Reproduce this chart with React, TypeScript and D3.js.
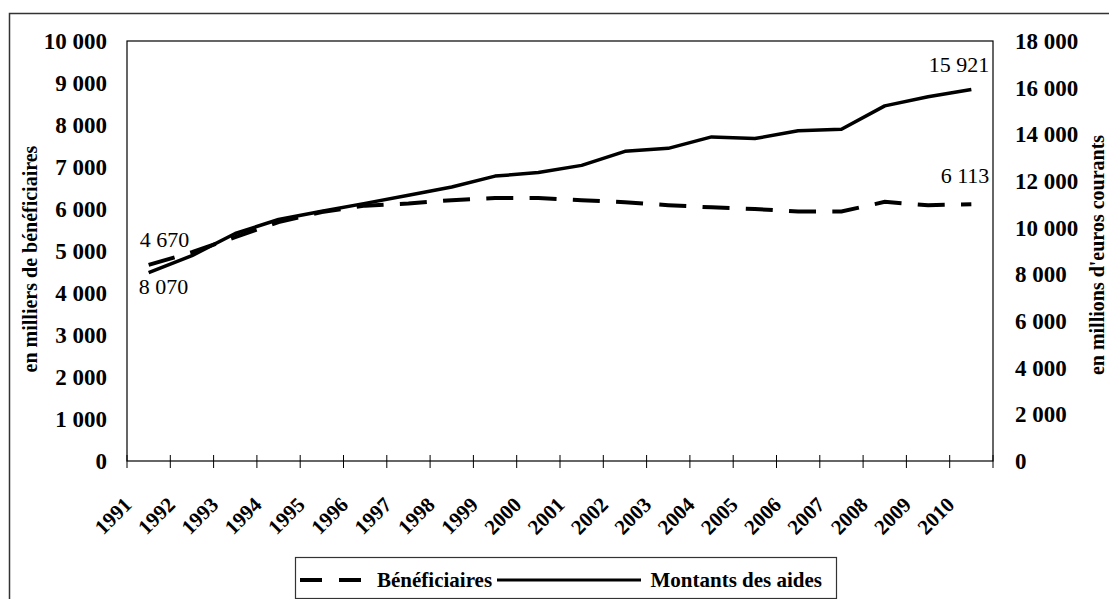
import React from "react";
import * as d3 from "d3";

const years = ["1991","1992","1993","1994","1995","1996","1997","1998","1999","2000","2001","2002","2003","2004","2005","2006","2007","2008","2009","2010"];
const beneficiaires = [4670, 4970, 5330, 5690, 5930, 6080, 6130, 6210, 6260, 6260, 6210, 6160, 6090, 6040, 6000, 5940, 5940, 6170, 6090, 6113];
const montants = [8070, 8800, 9750, 10350, 10700, 11040, 11390, 11740, 12210, 12360, 12670, 13270, 13400, 13890, 13820, 14150, 14220, 15220, 15610, 15921];
const leftTicks = [0, 1000, 2000, 3000, 4000, 5000, 6000, 7000, 8000, 9000, 10000];
const rightTicks = [0, 2000, 4000, 6000, 8000, 10000, 12000, 14000, 16000, 18000];
const leftTitle = "en milliers de bénéficiaires";
const rightTitle = "en millions d'euros courants";
const legendLabels = ["Bénéficiaires", "Montants des aides"];

const W = 1109, H = 599;
const PL = 127, PR = 993, PT = 41, PB = 461;
const FONT = "'Liberation Serif', 'Times New Roman', serif";

const fr = d3.formatLocale({ thousands: "\u00a0", grouping: [3], decimal: ",", currency: ["", ""] });
const fmt = fr.format(",");

export default function App() {
  const x = d3.scaleLinear().domain([0, years.length]).range([PL, PR]);
  const yL = d3.scaleLinear().domain([0, 10000]).range([PB, PT]);
  const yR = d3.scaleLinear().domain([0, 18000]).range([PB, PT]);

  const lineB = d3.line<number>().x((_, i) => x(i + 0.5)).y((d) => yL(d));
  const lineM = d3.line<number>().x((_, i) => x(i + 0.5)).y((d) => yR(d));

  const n = years.length;
  const bFirst = { x: x(0.5), y: yL(beneficiaires[0]) };
  const bLast = { x: x(n - 0.5), y: yL(beneficiaires[n - 1]) };
  const mFirst = { x: x(0.5), y: yR(montants[0]) };
  const mLast = { x: x(n - 0.5), y: yR(montants[n - 1]) };

  return (
    <svg width={W} height={H} style={{ position: "absolute", left: 0, top: 0, background: "#fff" }} fontFamily={FONT}>
      <rect x={0} y={0} width={W} height={H} fill="#fff" />
      <rect x={9.5} y={13.5} width={1120} height={620} fill="none" stroke="#333" strokeWidth={1.5} />
      <rect x={PL} y={PT} width={PR - PL} height={PB - PT} fill="none" stroke="#000" strokeWidth={1.2} />
      {d3.range(0, n + 1).map((i) => (
        <line key={"t" + i} x1={x(i)} x2={x(i)} y1={PB - 6} y2={PB + 7} stroke="#000" strokeWidth={1} />
      ))}
      {years.map((yr, i) => (
        <text key={yr} transform={`translate(${x(i) + 6},${PB + 45}) rotate(-45)`} textAnchor="end" fontWeight="bold" fontSize={21}>
          {yr}
        </text>
      ))}
      {leftTicks.map((v) => (
        <text key={"l" + v} x={107} y={yL(v)} dy="0.35em" textAnchor="end" fontWeight="bold" fontSize={23}>
          {fmt(v)}
        </text>
      ))}
      {rightTicks.map((v) => (
        <text key={"r" + v} x={1015} y={yR(v)} dy="0.35em" textAnchor="start" fontWeight="bold" fontSize={23}>
          {fmt(v)}
        </text>
      ))}
      <text transform={`translate(37,259) rotate(-90)`} textAnchor="middle" fontWeight="bold" fontSize={20}>{leftTitle}</text>
      <text transform={`translate(1104,255) rotate(-90)`} textAnchor="middle" fontWeight="bold" fontSize={20}>{rightTitle}</text>
      <path d={lineM(montants) || ""} fill="none" stroke="#000" strokeWidth={3.5} strokeLinejoin="round" />
      <path d={lineB(beneficiaires) || ""} fill="none" stroke="#000" strokeWidth={4} strokeDasharray="27,16.3" />
      <text x={bFirst.x - 9} y={bFirst.y - 18} fontSize={22}>{fmt(beneficiaires[0])}</text>
      <text x={mFirst.x - 10} y={mFirst.y + 21} fontSize={22}>{fmt(montants[0])}</text>
      <text x={mLast.x + 18} y={mLast.y - 18} fontSize={22} textAnchor="end">{fmt(montants[n - 1])}</text>
      <text x={bLast.x + 18} y={bLast.y - 21} fontSize={22} textAnchor="end">{fmt(beneficiaires[n - 1])}</text>
      <rect x={295.5} y={557.5} width={541} height={41} fill="#fff" stroke="#333" strokeWidth={1.2} />
      <line x1={300} x2={362} y1={580} y2={580} stroke="#000" strokeWidth={4} strokeDasharray="22,17" />
      <text x={377} y={587} fontWeight="bold" fontSize={21}>{legendLabels[0]}</text>
      <line x1={497} x2={641} y1={580} y2={580} stroke="#000" strokeWidth={3} />
      <text x={822} y={587} fontWeight="bold" fontSize={21} textAnchor="end">{legendLabels[1]}</text>
    </svg>
  );
}
